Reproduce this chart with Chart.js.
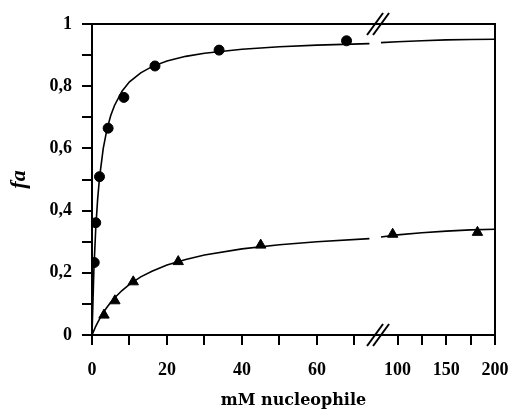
<!DOCTYPE html>
<html>
<head>
<meta charset="utf-8">
<script src="https://cdn.jsdelivr.net/npm/chart.js@4/dist/chart.umd.min.js"></script>
<style>
  html, body { margin: 0; padding: 0; background: #fff; }
  #wrap { width: 508px; height: 410px; }
</style>
</head>
<body>
<div id="wrap"><canvas id="grafico"></canvas></div>
<script>
// measured points (mM, fa)
const circX = [0.6, 1.0, 2.0, 4.3, 8.5, 16.8, 33.9, 67.9];
const circY = [0.233, 0.361, 0.509, 0.665, 0.764, 0.865, 0.916, 0.946];
const triX = [3.2, 6.1, 11.0, 23.0, 45.0, 95, 182];
const triY = [0.064, 0.110, 0.171, 0.236, 0.289, 0.324, 0.330];

// fitted curves (null = gap at the axis break)
const curveX = [0, 0.5, 1, 1.5, 2, 3, 4, 5, 6, 8, 10, 13, 16, 20, 25, 30, 40, 50, 60, 74, 78, 83, 100, 125, 150, 175, 200];
const circFit = [0, 0.209, 0.343, 0.436, 0.505, 0.600, 0.662, 0.706, 0.738, 0.784, 0.814, 0.843, 0.863, 0.881, 0.896, 0.906, 0.919, 0.927, 0.932, 0.937, null, 0.940, 0.943, 0.946, 0.949, 0.950, 0.951];
const triFit = [0, 0.014, 0.028, 0.040, 0.051, 0.072, 0.089, 0.105, 0.119, 0.143, 0.163, 0.187, 0.205, 0.225, 0.243, 0.257, 0.277, 0.290, 0.300, 0.310, null, 0.315, 0.322, 0.329, 0.334, 0.338, 0.340];

const xTickVals = [0, 10, 20, 30, 40, 50, 60, 70, 100, 125, 150, 175, 200];
const xTickLabels = ['0', '', '20', '', '40', '', '60', '', '100', '', '150', '', '200'];

// broken x axis: above 75 mM the scale is squeezed
const breakAt = 75;
const squeeze = 0.26;
function toAxis(x) {
  return x <= breakAt ? x : breakAt + (x - breakAt) * squeeze;
}
const breakMark = 76.3;

function pts(xs, ys) {
  return xs.map((x, i) => ({ x: toAxis(x), y: ys[i] }));
}

const serif = '"Liberation Serif", "Times New Roman", serif';

const moldura = {
  id: 'moldura',
  afterDraw(chart) {
    const { ctx, chartArea: a } = chart;
    const bx = chart.scales.x.getPixelForValue(breakMark);
    ctx.save();
    ctx.strokeStyle = '#000';
    ctx.lineWidth = 2;
    ctx.beginPath();
    ctx.moveTo(a.left, a.top);
    ctx.lineTo(a.right, a.top);
    ctx.lineTo(a.right, a.bottom);
    ctx.stroke();
    // the // marks
    [a.top, a.bottom].forEach(y => {
      [-3, 3].forEach(dx => {
        ctx.beginPath();
        ctx.moveTo(bx + dx - 8, y + 11);
        ctx.lineTo(bx + dx + 8, y - 11);
        ctx.stroke();
      });
    });
    ctx.restore();
  }
};

const ctx = document.getElementById('grafico').getContext('2d');
const grafico = new Chart(ctx, {
  type: 'scatter',
  data: {
    datasets: [
      {
        data: pts(curveX, circFit),
        showLine: true,
        borderColor: '#000',
        borderWidth: 1.6,
        pointRadius: 0,
        spanGaps: false
      },
      {
        data: pts(curveX, triFit),
        showLine: true,
        borderColor: '#000',
        borderWidth: 1.6,
        pointRadius: 0,
        spanGaps: false
      },
      {
        data: pts(circX, circY),
        pointStyle: 'circle',
        pointRadius: 5,
        backgroundColor: '#000',
        borderColor: '#000'
      },
      {
        data: pts(triX, triY),
        pointStyle: 'triangle',
        pointRadius: 6,
        backgroundColor: '#000',
        borderColor: '#000'
      }
    ]
  },
  options: {
    responsive: true,
    maintainAspectRatio: false,
    animation: false,
    layout: { padding: { top: 24, right: 13, left: 0, bottom: 0 } },
    plugins: {
      legend: { display: false },
      tooltip: { enabled: false }
    },
    scales: {
      x: {
        type: 'linear',
        min: 0,
        max: toAxis(200),
        afterFit: s => { s.height = 75; s.paddingLeft = 0; s.paddingRight = 0; },
        afterBuildTicks: s => { s.ticks = xTickVals.map(v => ({ value: toAxis(v) })); },
        border: { color: '#000', width: 2 },
        grid: { drawOnChartArea: false, tickLength: 10, color: '#000', lineWidth: 2 },
        ticks: {
          autoSkip: false,
          maxRotation: 0,
          padding: 15,
          color: '#000',
          font: { family: serif, size: 18, weight: 'bold' },
          callback: (v, i) => xTickLabels[i]
        },
        title: {
          display: true,
          text: 'mM nucleophile',
          color: '#000',
          padding: { top: 0, bottom: 0 },
          font: { family: '"DejaVu Serif", serif', size: 16, weight: 'bold' }
        }
      },
      y: {
        min: 0,
        max: 1,
        afterFit: s => { s.width = 92; },
        border: { color: '#000', width: 2 },
        grid: { drawOnChartArea: false, tickLength: 10, color: '#000', lineWidth: 2 },
        ticks: {
          stepSize: 0.1,
          padding: 10,
          color: '#000',
          font: { family: serif, size: 18, weight: 'bold' },
          callback: (v, i) => i % 2 === 0 ? String(+v.toFixed(1)).replace('.', ',') : ''
        },
        title: {
          display: true,
          text: 'fa',
          color: '#000',
          padding: { top: 6, bottom: 0 },
          font: { family: serif, size: 22, weight: 'bold', style: 'italic' }
        }
      }
    }
  },
  plugins: [moldura]
});
</script>
</body>
</html>
